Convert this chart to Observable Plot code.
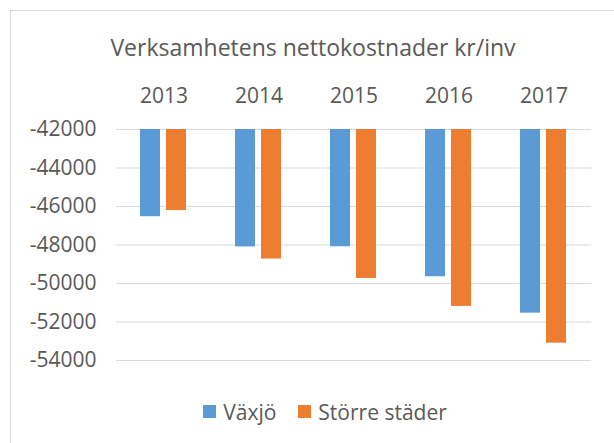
<!DOCTYPE html>
<html>
<head>
<meta charset="utf-8">
<script src="https://cdn.jsdelivr.net/npm/d3@7"></script>
<script src="https://cdn.jsdelivr.net/npm/@observablehq/plot@0.6"></script>
<style>
  html, body { margin: 0; padding: 0; background: #fff; overflow: hidden; }
  #wrap { position: relative; width: 614px; height: 443px; overflow: hidden; font-family: 'Open Sans', sans-serif; color: #595959; }
  #border { position: absolute; left: 10px; top: 10px; width: 640px; height: 480px; border: 1px solid #d9d9d9; box-sizing: border-box; }
  #title { position: relative; margin-left: 11px; width: 604px; height: 70px; text-align: center; font-size: 23px; line-height: 23px; padding-top: 36px; box-sizing: border-box; }
  #chart { position: relative; height: 300px; }
  #chart svg { display: block; }
  #legend { position: relative; margin-left: 23px; width: 604px; height: 73px; display: flex; justify-content: center; align-items: center; font-size: 21px; line-height: 24px; padding-top: 10px; box-sizing: border-box; }
  .item { display: flex; align-items: center; flex: none; }
  .sw { width: 13px; height: 13px; flex: none; margin-right: 7px; }
</style>
</head>
<body>
<div id="wrap">
  <div id="border"></div>
  <div id="title">Verksamhetens nettokostnader kr/inv</div>
  <div id="chart"></div>
  <div id="legend"></div>
</div>
<script>
const years = ["2013", "2014", "2015", "2016", "2017"];
const seriesNames = ["Växjö", "Större städer"];
const vaxjo = [-46530, -48100, -48090, -49650, -51540];
const storre = [-46210, -48730, -49740, -51190, -53100];
const seriesColors = ["#5B9BD5", "#ED7D31"];
const yTicks = [-42000, -44000, -46000, -48000, -50000, -52000, -54000];

const data = years.flatMap((yr, i) => [
  {year: yr, series: seriesNames[0], value: vaxjo[i]},
  {year: yr, series: seriesNames[1], value: storre[i]}
]);
const baseline = d3.max(yTicks);

const chart = Plot.plot({
  width: 614,
  height: 300,
  marginTop: 59,
  marginBottom: 10,
  marginLeft: 116,
  marginRight: 23,
  style: {fontFamily: "'Open Sans', sans-serif", fontSize: "21px", color: "#595959", background: "transparent", overflow: "visible"},
  fx: {domain: years, padding: 0, axis: "top", tickSize: 0, tickPadding: 27, label: null},
  x: {domain: seriesNames, paddingInner: 0.22, paddingOuter: 0.87, axis: null},
  y: {domain: [d3.min(yTicks), baseline], ticks: yTicks, tickSize: 0, tickPadding: 20, tickFormat: d => String(d), label: null},
  color: {domain: seriesNames, range: seriesColors},
  marks: [
    Plot.ruleY(yTicks, {stroke: "#d9d9d9", strokeWidth: 1}),
    Plot.barY(data, {fx: "year", x: "series", y1: baseline, y2: "value", fill: "series"})
  ]
});
document.getElementById("chart").appendChild(chart);

const legend = document.getElementById("legend");
seriesNames.forEach((name, i) => {
  const item = document.createElement("div");
  item.className = "item";
  if (i > 0) item.style.marginLeft = "22px";
  const sw = document.createElement("div");
  sw.className = "sw";
  sw.style.background = seriesColors[i];
  const label = document.createElement("span");
  label.textContent = name;
  item.appendChild(sw);
  item.appendChild(label);
  legend.appendChild(item);
});
</script>
</body>
</html>
